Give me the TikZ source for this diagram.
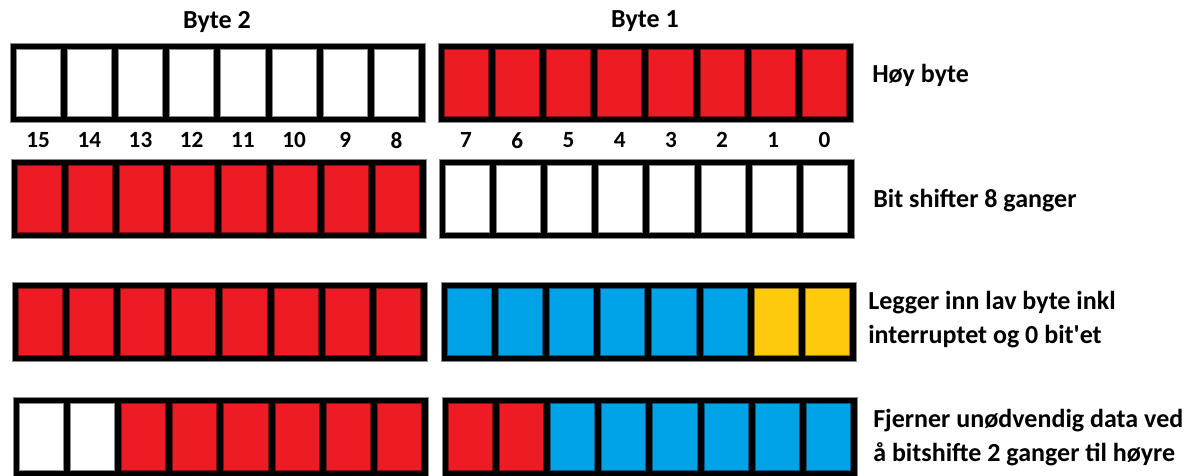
\documentclass[tikz,border=0pt]{standalone}
\usepackage{fontspec}
\setmainfont{Carlito}[Ligatures=TeXOff]
\usetikzlibrary{positioning}
\definecolor{bitred}{HTML}{ED1C24}
\definecolor{bitblue}{HTML}{00A2E8}
\definecolor{bityellow}{HTML}{FFC90E}
\definecolor{edgegray}{HTML}{8A8A8A}

\tikzset{
  bitcell/.style={minimum width=1.105cm, minimum height=1.675cm, inner sep=0pt, outer sep=0pt, line width=0.5pt},
  cellW/.style={bitcell, fill=white, draw=edgegray},
  cellR/.style={bitcell, fill=bitred, draw=bitred!55!black},
  cellB/.style={bitcell, fill=bitblue, draw=bitblue!55!black},
  cellY/.style={bitcell, fill=bityellow, draw=bityellow!55!black},
  byteframe/.style={fill=black, draw=edgegray, line width=0.4pt},
  bytetitle/.style={font=\fontsize{18.5}{22}\selectfont\bfseries},
  bitnum/.style={font=\fontsize{16.5}{18}\selectfont\bfseries, inner sep=0pt},
  note/.style={font=\fontsize{18.5}{23.5}\selectfont\bfseries, align=left, inner sep=0pt}
}

\begin{document}
\begin{tikzpicture}[x=0.025cm, y=-0.025cm]
  \useasboundingbox (0,0) rectangle (1195,475);

  % Rader med bitceller (bit 15 ... 0)
  \foreach \row/\top/\lx/\rx/\cells in {
    1/43/10/438/{cellW,cellW,cellW,cellW,cellW,cellW,cellW,cellW,cellR,cellR,cellR,cellR,cellR,cellR,cellR,cellR},
    2/159/11/439/{cellR,cellR,cellR,cellR,cellR,cellR,cellR,cellR,cellW,cellW,cellW,cellW,cellW,cellW,cellW,cellW},
    3/282/12/441/{cellR,cellR,cellR,cellR,cellR,cellR,cellR,cellR,cellB,cellB,cellB,cellB,cellB,cellB,cellY,cellY},
    4/397/13/442/{cellW,cellW,cellR,cellR,cellR,cellR,cellR,cellR,cellR,cellR,cellB,cellB,cellB,cellB,cellB,cellB}}{
    \filldraw[byteframe] (\lx,\top) rectangle ++(415,79);
    \filldraw[byteframe] (\rx,\top) rectangle ++(415,79);
    \foreach \cell [count=\k from 0] in \cells {
      \pgfmathtruncatemacro{\bit}{15-\k}
      \pgfmathsetmacro{\cx}{\k<8 ? \lx+28.1+51.2*\k : \rx+28.1+51.2*(\k-8)}
      \node[\cell] (r\row-\bit) at (\cx,\top+39.5) {};
    }
  }

  % Byte-titler
  \node[bytetitle] (byte2) at (217,22) {Byte 2};
  \node[bytetitle] (byte1) at (645,21) {Byte 1};

  % Bitnummer under første rad
  \foreach \bit in {0,...,15}
    \node[bitnum, below=0.4cm of r1-\bit] (n\bit) {\bit};

  % Forklaringer
  \node[note, anchor=base west] (hoy) at (872,82) {Høy byte};
  \node[note, anchor=base west] (shift) at (873,207) {Bit shifter 8 ganger};
  \node[note, anchor=base west] (lav) at (868,343) {Legger inn lav byte inkl\\interruptet og 0 bit'et};
  \node[note, anchor=base west] (fjern) at (873,461) {Fjerner unødvendig data ved\\å bitshifte 2 ganger til høyre};
\end{tikzpicture}
\end{document}
